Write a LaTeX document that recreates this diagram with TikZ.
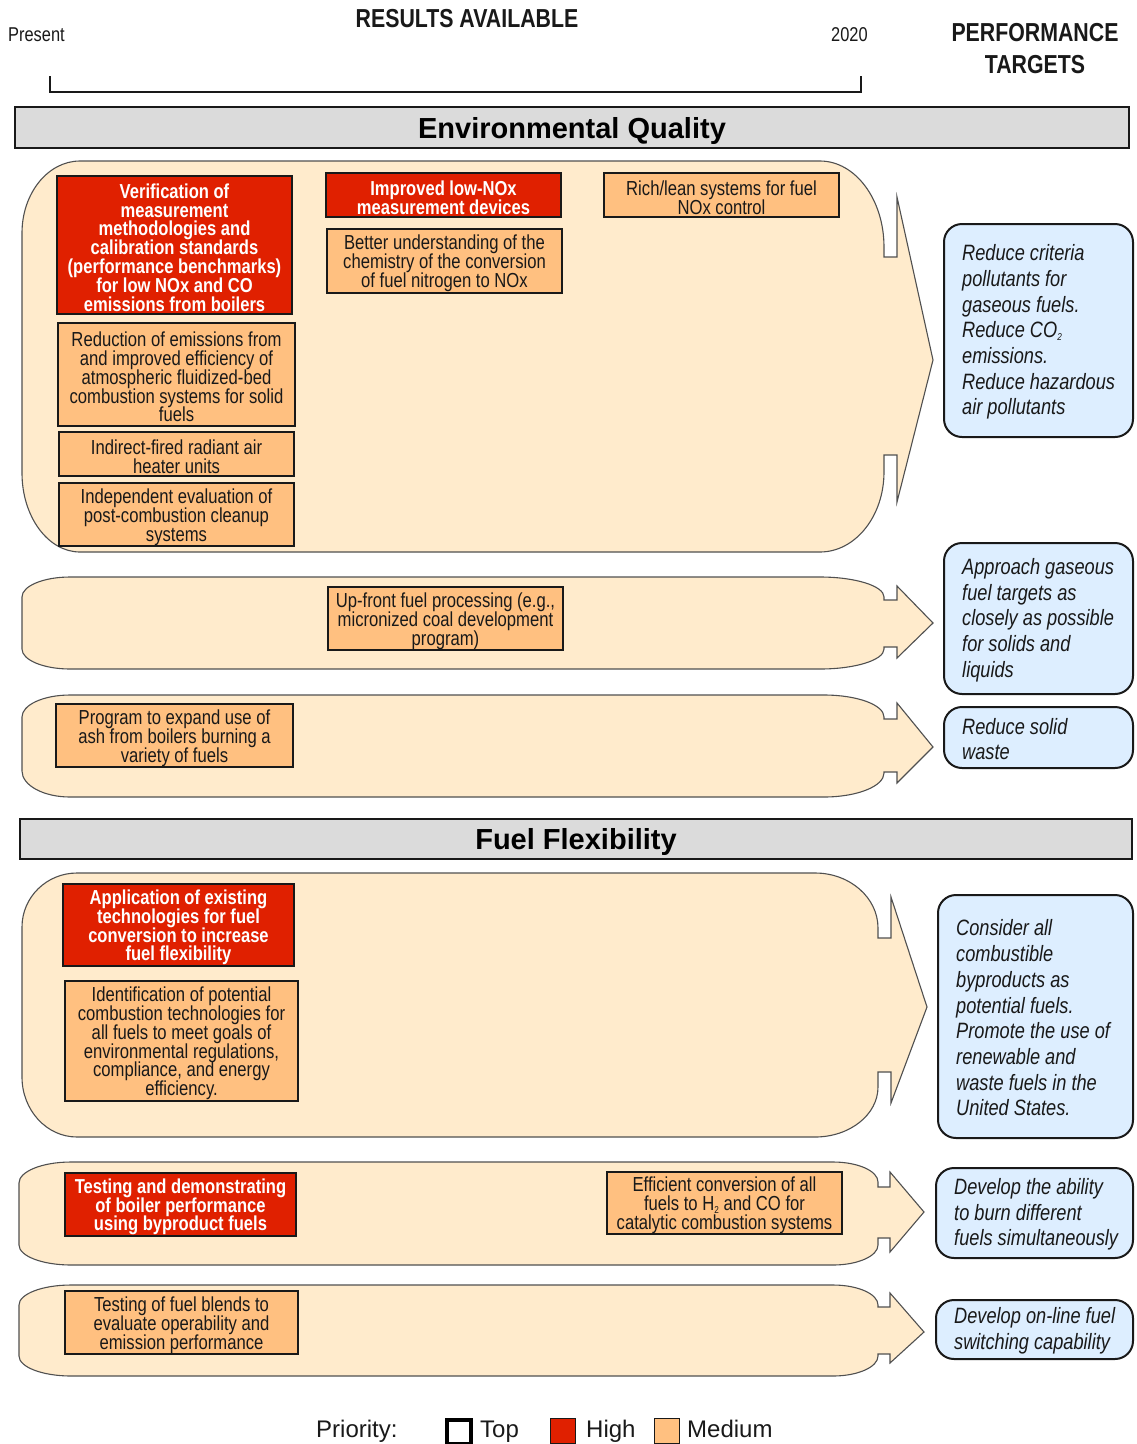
\documentclass[tikz,border=0pt]{standalone}
\usepackage{fontspec}
\setmainfont{Liberation Sans}
\newfontfamily\nar[FakeStretch=0.82]{Liberation Sans}
\definecolor{hiRed}{RGB}{224,32,0}
\definecolor{medOrange}{RGB}{255,192,128}
\definecolor{bandFill}{RGB}{255,235,204}
\definecolor{goalFill}{RGB}{221,238,255}
\definecolor{barGray}{RGB}{219,219,219}
\definecolor{bandLine}{RGB}{80,80,80}
\definecolor{ink}{RGB}{25,25,25}

% tiny lowered subscript digit
\newcommand\lowsub[1]{\raisebox{-2.5pt}{\fontsize{10}{10}\selectfont #1}}

\tikzset{
  taskbox/.style={draw=ink, line width=1.8pt, inner sep=0pt, align=center,
    font={\nar\fontsize{20.3}{18.8}\selectfont}},
  med/.style={taskbox, fill=medOrange, text=ink},
  hi/.style={taskbox, fill=hiRed, text=white,
    font={\nar\bfseries\fontsize{20.2}{18.8}\selectfont}},
  band/.style={fill=bandFill, draw=bandLine, line width=1.1pt},
  goal/.style={draw=ink, fill=goalFill, line width=2pt, rounded corners=18pt, inner sep=0pt},
  goaltext/.style={inner sep=0pt, align=left, text=ink,
    font={\nar\itshape\fontsize{22.2}{25.7}\selectfont}},
  secbar/.style={draw=ink, fill=barGray, line width=1.8pt, inner sep=0pt},
  sectext/.style={inner sep=0pt, text=black, font={\bfseries\fontsize{29}{30}\selectfont}},
  headtext/.style={inner sep=0pt, align=center, text=ink,
    font={\nar\bfseries\fontsize{26}{32}\selectfont}},
  smalltext/.style={inner sep=0pt, text=ink, font={\nar\fontsize{20}{22}\selectfont}},
  legendtext/.style={inner sep=0pt, text=ink, font={\fontsize{24}{26}\selectfont}},
}

% task box from its corners: style, name, x0, y0, x1, y1, text
\newcommand\tbox[7]{%
  \node[#1, minimum width={(#5-#3)*1pt}, minimum height={(#6-#4)*1pt}]
    (#2) at ({(#3+#5)/2},{(#4+#6)/2}) {};
  \node[#1, draw=none, fill=none] (#2-txt) at ([yshift=-2.5pt]#2.center) {#7};}
% performance target from its corners: name, x0, y0, x1, y1, text
\newcommand\tgt[6]{%
  \node[goal, minimum width={(#4-#2)*1pt}, minimum height={(#5-#3)*1pt}]
    (#1) at ({(#2+#4)/2},{(#3+#5)/2}) {};
  \node[goaltext, anchor=west] (#1-txt) at ([xshift=19pt,yshift=-1.5pt]#1.west) {#6};}

\begin{document}
\lineskiplimit=-100pt
\begin{tikzpicture}[x=1pt, y=-1pt]
\useasboundingbox (0,0) rectangle (1136,1444);

% ---- heading row ----
\node[headtext, anchor=base] (results) at (467,27) {RESULTS AVAILABLE};
\node[headtext, anchor=base] (perf) at (1035,41) {PERFORMANCE};
\node[headtext, anchor=base] (targ) at (1035,73) {TARGETS};
\node[smalltext, anchor=base west] (present) at (8,41) {Present};
\node[smalltext, anchor=base west] (year) at (831,41) {2020};
\coordinate (brA) at (50,76);
\coordinate (brB) at (50,92);
\coordinate (brC) at (861,92);
\coordinate (brD) at (861,76);
\draw[line width=1.4pt, draw=ink] (brA) -- (brB) -- (brC) -- (brD);

% ---- Environmental Quality ----
\node[secbar, minimum width=1114pt, minimum height=41pt] (eq) at (572,127.5) {};
\node[sectext, anchor=base] (eq-txt) at (572,138) {Environmental Quality};

\draw[band] (22,233) arc[start angle=180,end angle=90,x radius=58pt,y radius=72pt]
  -- (820,161) arc[start angle=90,end angle=0,x radius=64pt,y radius=86pt]
  -- (884,257) -- (897,257) -- (897,197) -- (933,360) -- (897,502) -- (897,455) -- (884,455)
  -- (884,472) arc[start angle=0,end angle=-90,x radius=64pt,y radius=80pt]
  -- (80,552) arc[start angle=270,end angle=180,x radius=58pt,y radius=79pt] -- cycle;

\draw[band] (22,597) arc[start angle=180,end angle=90,x radius=48pt,y radius=20pt]
  -- (820,577) arc[start angle=90,end angle=0,x radius=64pt,y radius=20pt]
  -- (884,600) -- (897,600) -- (897,586) -- (933,623) -- (897,658) -- (897,647) -- (884,647)
  -- (884,649) arc[start angle=0,end angle=-90,x radius=64pt,y radius=20pt]
  -- (70,669) arc[start angle=270,end angle=180,x radius=48pt,y radius=20pt] -- cycle;

\draw[band] (22,717) arc[start angle=180,end angle=90,x radius=48pt,y radius=22pt]
  -- (824,695) arc[start angle=90,end angle=0,x radius=60pt,y radius=22pt]
  -- (884,719) -- (897,719) -- (897,703) -- (933,747) -- (897,783) -- (897,772) -- (884,772)
  -- (884,773) arc[start angle=0,end angle=-90,x radius=60pt,y radius=24pt]
  -- (70,797) arc[start angle=270,end angle=180,x radius=48pt,y radius=26pt] -- cycle;

\tbox{hi}{verif}{57}{176}{292}{314}{Verification of\\measurement\\methodologies and\\calibration standards\\(performance benchmarks)\\for low NOx and CO\\emissions from boilers}
\tbox{med}{afbc}{58}{323}{295}{426}{Reduction of emissions from\\and improved efficiency of\\atmospheric fluidized-bed\\combustion systems for solid\\fuels}
\tbox{med}{radiant}{59}{432}{294}{476}{Indirect-fired radiant air\\heater units}
\tbox{med}{cleanup}{59}{483}{294}{546}{Independent evaluation of\\post-combustion cleanup\\systems}
\tbox{hi}{devices}{326}{173}{561}{217}{Improved low-NOx\\measurement devices}
\tbox{med}{chem}{327}{229}{562}{293}{Better understanding of the\\chemistry of the conversion\\of fuel nitrogen to NOx}
\tbox{med}{richlean}{604}{173}{839}{217}{Rich/lean systems for fuel\\NOx control}
\tbox{med}{upfront}{328}{587}{563}{650}{Up-front fuel processing (e.g.,\\micronized coal development\\program)}
\tbox{med}{ash}{56}{704}{293}{767}{Program to expand use of\\ash from boilers burning a\\variety of fuels}

\tgt{g1}{944}{224}{1133}{437}{Reduce criteria\\pollutants for\\gaseous fuels.\\Reduce CO\lowsub{2}\\emissions.\\Reduce hazardous\\air pollutants}
\tgt{g2}{944}{543}{1133}{694}{Approach gaseous\\fuel targets as\\closely as possible\\for solids and\\liquids}
\tgt{g3}{944}{707}{1133}{768}{Reduce solid\\waste}

% ---- Fuel Flexibility ----
\node[secbar, minimum width=1112pt, minimum height=40pt] (ff) at (576,839) {};
\node[sectext, anchor=base] (ff-txt) at (576,849.5) {Fuel Flexibility};

\draw[band] (22,927) arc[start angle=180,end angle=90,x radius=55pt,y radius=54pt]
  -- (815,873) arc[start angle=90,end angle=0,x radius=63pt,y radius=55pt]
  -- (878,938) -- (891,938) -- (891,897) -- (927,1007) -- (891,1103) -- (891,1072) -- (878,1072)
  -- (878,1087) arc[start angle=0,end angle=-90,x radius=63pt,y radius=50pt]
  -- (77,1137) arc[start angle=270,end angle=180,x radius=55pt,y radius=60pt] -- cycle;

\draw[band] (19,1183) arc[start angle=180,end angle=90,x radius=52pt,y radius=21pt]
  -- (833,1162) arc[start angle=90,end angle=0,x radius=45pt,y radius=20pt]
  -- (878,1187) -- (890,1187) -- (890,1172) -- (924,1212) -- (890,1252) -- (890,1238) -- (878,1238)
  -- (878,1245) arc[start angle=0,end angle=-90,x radius=45pt,y radius=20pt]
  -- (71,1265) arc[start angle=270,end angle=180,x radius=52pt,y radius=20pt] -- cycle;

\draw[band] (19,1305) arc[start angle=180,end angle=90,x radius=52pt,y radius=20pt]
  -- (833,1285) arc[start angle=90,end angle=0,x radius=45pt,y radius=20pt]
  -- (878,1307) -- (890,1307) -- (890,1293) -- (924,1332) -- (890,1363) -- (890,1354) -- (878,1354)
  -- (878,1356) arc[start angle=0,end angle=-90,x radius=45pt,y radius=20pt]
  -- (71,1376) arc[start angle=270,end angle=180,x radius=52pt,y radius=20pt] -- cycle;

\tbox{hi}{existing}{63}{884}{294}{966}{Application of existing\\technologies for fuel\\conversion to increase\\fuel flexibility}
\tbox{med}{identify}{65}{981}{298}{1101}{Identification of potential\\combustion technologies for\\all fuels to meet goals of\\environmental regulations,\\compliance, and energy\\efficiency.}
\tbox{hi}{byproduct}{65}{1173}{296}{1236}{Testing and demonstrating\\of boiler performance\\using byproduct fuels}
\tbox{med}{hydrogen}{607}{1172}{842}{1234}{Efficient conversion of all\\fuels to H\lowsub{2} and CO for\\catalytic combustion systems}
\tbox{med}{blends}{65}{1291}{298}{1354}{Testing of fuel blends to\\evaluate operability and\\emission performance}

\tgt{g4}{938}{895}{1133}{1138}{Consider all\\combustible\\byproducts as\\potential fuels.\\Promote the use of\\renewable and\\waste fuels in the\\United States.}
\tgt{g5}{936}{1168}{1133}{1258}{Develop the ability\\to burn different\\fuels simultaneously}
\tgt{g6}{936}{1300}{1133}{1359}{Develop on-line fuel\\switching capability}

% ---- legend ----
\node[legendtext, anchor=base west] (prio) at (316,1437) {Priority:};
\node[draw=black, line width=4pt, fill=white, minimum size=24pt, inner sep=0pt] (keyTop) at (459,1432) {};
\node[legendtext, anchor=base west] (lTop) at (480,1437) {Top};
\node[draw=ink, line width=1.5pt, fill=hiRed, minimum size=25pt, inner sep=0pt] (keyHigh) at (563,1431) {};
\node[legendtext, anchor=base west] (lHigh) at (586,1437) {High};
\node[draw=ink, line width=1.5pt, fill=medOrange, minimum size=25pt, inner sep=0pt] (keyMed) at (667,1431) {};
\node[legendtext, anchor=base west] (lMed) at (687,1437) {Medium};
\end{tikzpicture}
\end{document}
